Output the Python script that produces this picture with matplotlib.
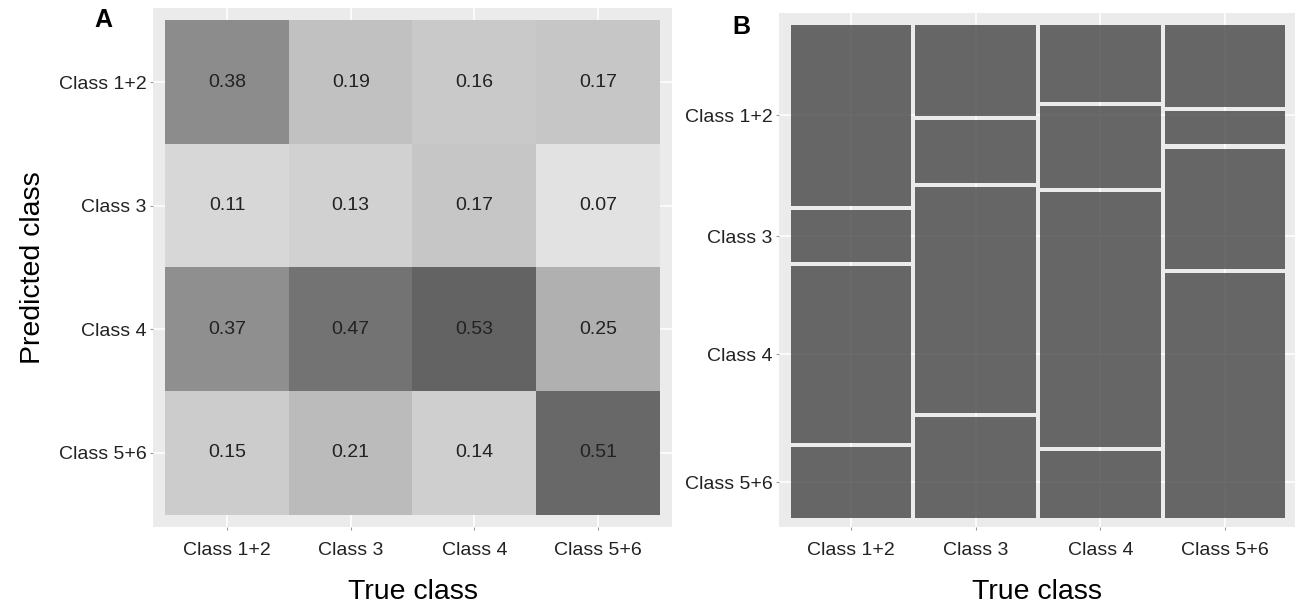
import numpy as np
import matplotlib
matplotlib.use("Agg")
import matplotlib.pyplot as plt
from matplotlib.colors import LinearSegmentedColormap, Normalize

plt.rcParams['font.family'] = ['Liberation Sans', 'DejaVu Sans']

classes = ['Class 1+2', 'Class 3', 'Class 4', 'Class 5+6']
# rows = predicted class (top to bottom), columns = true class
props = np.array([
    [0.38, 0.19, 0.16, 0.17],
    [0.11, 0.13, 0.17, 0.07],
    [0.37, 0.47, 0.53, 0.25],
    [0.15, 0.21, 0.14, 0.51],
])

bg = '#EBEBEB'
tick_col = '#222222'

fig = plt.figure(figsize=(12.96, 6.06), dpi=100)

##Panel A: heatmap of proportions
axA = fig.add_axes([153/1296, 1-527/606, 519/1296, 519/606])
axA.set_facecolor(bg)
cmap = LinearSegmentedColormap.from_list('grays', ['#e2e2e2', '#636363'])
norm = Normalize(0.07, 0.53)
axA.imshow(props, cmap=cmap, norm=norm, extent=(0.5, 4.5, 0.5, 4.5),
           origin='upper', aspect='auto', zorder=1, interpolation='nearest')
for i in range(4):
    for j in range(4):
        axA.text(j + 1, 4 - i, '%.2f' % props[i, j], ha='center', va='center',
                 fontsize=14, color='#222222', zorder=3)
axA.set_xlim(0.4, 4.6)
axA.set_ylim(0.4, 4.6)
axA.set_xticks([1, 2, 3, 4])
axA.set_xticklabels(classes)
axA.set_yticks([4, 3, 2, 1])
axA.set_yticklabels(classes)
axA.set_axisbelow(True)
axA.grid(color='white', lw=1.1)
axA.set_xlabel('True class', fontsize=20.5, labelpad=15)
axA.set_ylabel('Predicted class', fontsize=20.5, labelpad=9)

##Panel B: mosaic plot
axB = fig.add_axes([779/1296, 1-527/606, 516/1296, 514/606])
axB.set_facecolor(bg)
gap = 0.0085
w = (1 - 3*gap) / 4
col_centers = []
first_centers = []
for j in range(4):
    left = j * (w + gap)
    col_centers.append(left + w/2)
    share = props[:, j] / props[:, j].sum() * (1 - 3*gap)
    top = 1.0
    for i in range(4):
        bottom = top - share[i]
        axB.bar(left, share[i], width=w, bottom=bottom, align='edge',
                color='#454545', alpha=0.8, lw=0, zorder=2)
        if j == 0:
            first_centers.append((top + bottom) / 2)
        top = bottom - gap
axB.set_xlim(-0.024, 1.02)
axB.set_ylim(-0.018, 1.024)
axB.set_xticks(col_centers)
axB.set_xticklabels(classes)
axB.set_yticks(first_centers)
axB.set_yticklabels(classes)
axB.set_axisbelow(True)
axB.grid(color='white', lw=1.1)
axB.set_xlabel('True class', fontsize=20.5, labelpad=15)

for ax in (axA, axB):
    for s in ax.spines.values():
        s.set_visible(False)
    ax.tick_params(axis='both', labelsize=14, colors='#999999', labelcolor=tick_col, length=2.5, width=0.8)
    ax.tick_params(axis='x', pad=8)
    ax.tick_params(axis='y', pad=2)

fig.text(103/1296, 1-20/606, 'A', fontsize=18, fontweight='bold', ha='center', va='center')
fig.text(741/1296, 1-27/606, 'B', fontsize=18, fontweight='bold', ha='center', va='center')

fig.savefig('out.png', dpi=100, facecolor='white')
